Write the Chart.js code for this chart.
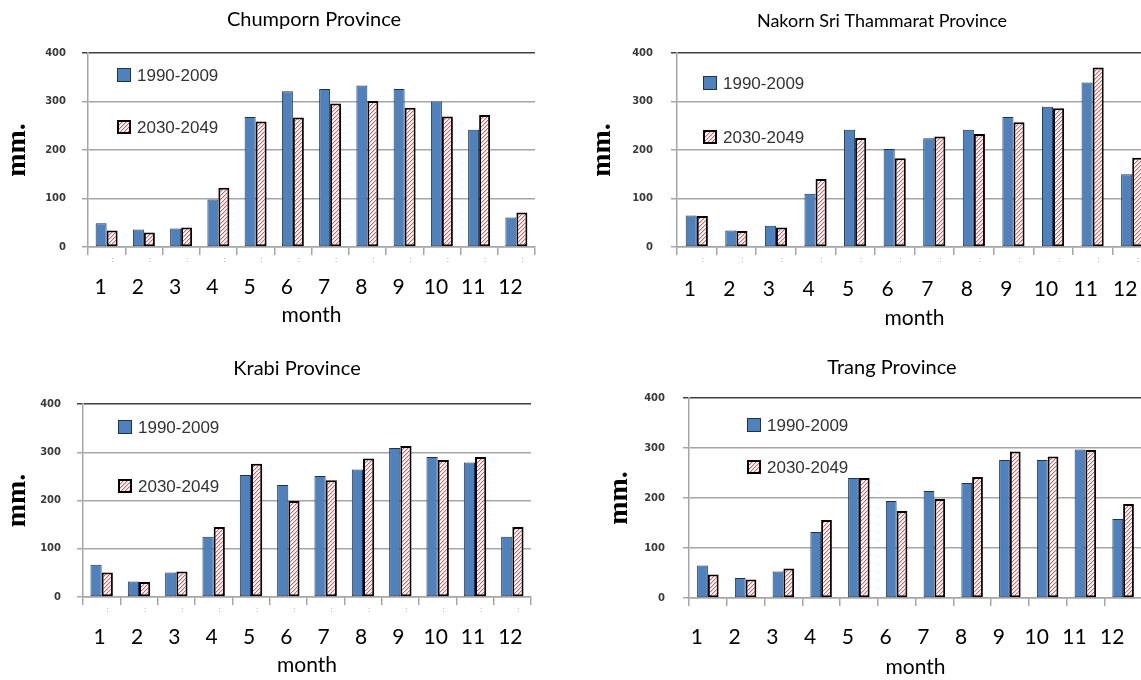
<!DOCTYPE html>
<html>
<head>
<meta charset="utf-8">
<script src="https://cdn.jsdelivr.net/npm/chart.js@4.4.1/dist/chart.umd.min.js"></script>
<style>
html, body { margin: 0; padding: 0; background: #fff; overflow: hidden; }
#wrap { position: relative; width: 1141px; height: 680px; overflow: hidden; background: #fff; }
#wrap canvas { position: absolute; }
</style>
</head>
<body>
<div id="wrap">
  <canvas id="c1"></canvas>
  <canvas id="c2"></canvas>
  <canvas id="c3"></canvas>
  <canvas id="c4"></canvas>
</div>
<script>
// ---- data ----
const months = ['1', '2', '3', '4', '5', '6', '7', '8', '9', '10', '11', '12'];
const periodLabels = ['1990-2009', '2030-2049'];
const yTickMin = 0, yTickMax = 400, yTickStep = 100;

const chumpornBase   = [49, 36, 38, 98, 268, 321, 326, 333, 326, 300, 242, 61];
const chumpornFuture = [34, 30, 40, 122, 259, 267, 296, 301, 287, 269, 272, 71];

const nakornBase   = [65, 34, 44, 110, 242, 202, 224, 242, 268, 289, 339, 150];
const nakornFuture = [64, 33, 40, 140, 225, 183, 228, 233, 257, 286, 370, 184];

const krabiBase   = [67, 32, 51, 125, 253, 232, 251, 264, 309, 290, 279, 125];
const krabiFuture = [51, 31, 53, 145, 276, 199, 242, 287, 313, 284, 290, 145];

const trangBase   = [65, 40, 53, 132, 240, 194, 214, 230, 276, 276, 297, 158];
const trangFuture = [47, 37, 59, 156, 240, 174, 198, 242, 293, 283, 296, 188];

// ---- styles ----
const BLUE = '#4f81bd';
const BLUE_EDGE = '#1d3352';
const GRID = '#a6a6a6';
const TOPLINE = '#404040';

function makeHatch() {
  const n = 4;
  const c = document.createElement('canvas');
  c.width = n; c.height = n;
  const g = c.getContext('2d');
  g.fillStyle = '#ffffff';
  g.fillRect(0, 0, n, n);
  for (let x = 0; x < n; x++) {
    for (let y = 0; y < n; y++) {
      const k = (x + y) % n;
      if (k === n - 1) { g.fillStyle = '#e05a5a'; g.fillRect(x, y, 1, 1); }
      else if (k === 0) { g.fillStyle = '#f5cccc'; g.fillRect(x, y, 1, 1); }
    }
  }
  return g.createPattern(c, 'repeat');
}
const HATCH = makeHatch();

const decor = {
  id: 'panelDecor',
  afterDraw(chart, args, o) {
    const ctx = chart.ctx;
    ctx.save();
    // title
    ctx.fillStyle = '#000';
    ctx.font = o.titleSize + 'px Lato';
    ctx.textAlign = 'center';
    ctx.textBaseline = 'middle';
    ctx.fillText(o.title, o.titleX, o.titleY);
    // faint colon marks below the axis
    if (o.dots) {
      const xs = chart.scales.x;
      ctx.fillStyle = '#8a8a8a';
      ctx.font = '8px "Liberation Sans"';
      for (let i = 0; i < chart.data.labels.length; i++) {
        ctx.fillText(':', xs.getPixelForValue(i) + 6, chart.chartArea.bottom + 13);
      }
    }
    // legend
    const s = 14;
    chart.data.datasets.forEach((ds, i) => {
      const x = o.legX, y = o.legY[i];
      ctx.fillStyle = ds.backgroundColor;
      ctx.fillRect(x, y, s, s);
      ctx.lineWidth = ds.borderWidth;
      ctx.strokeStyle = ds.borderColor;
      const h = ds.borderWidth / 2;
      ctx.strokeRect(x + h, y + h, s - ds.borderWidth, s - ds.borderWidth);
      ctx.fillStyle = '#333';
      ctx.font = '17px "Liberation Sans"';
      ctx.textAlign = 'left';
      ctx.textBaseline = 'middle';
      ctx.fillText(ds.label, x + s + 6, y + s / 2 + 1);
    });
    ctx.restore();
  }
};

const panels = [
  { id: 'c1', title: 'Chumporn Province', titleSize: 20, titleX: 314, titleY: 20,
    base: chumpornBase, future: chumpornFuture, dots: true,
    x: 0, y: 0, w: 570, h: 340, l: 88, t: 53, r: 535, b: 247, xh: 81, xpad: 20, lo: -6,
    mpad: 1, ypad: 16, cat: 0.59, legX: 117, legY: [68, 120] },
  { id: 'c2', title: 'Nakorn Sri Thammarat Province', titleSize: 18, titleX: 312, titleY: 21,
    base: nakornBase, future: nakornFuture, dots: true,
    x: 570, y: 0, w: 600, h: 340, l: 107, t: 53, r: 582, b: 247, xh: 84, xpad: 22, lo: -7,
    mpad: 16, ypad: 18, cat: 0.56, legX: 133, legY: [76, 130] },
  { id: 'c3', title: 'Krabi Province', titleSize: 20, titleX: 297, titleY: 29,
    base: krabiBase, future: krabiFuture, dots: true,
    x: 0, y: 340, w: 570, h: 340, l: 83, t: 64, r: 531, b: 257, xh: 81, xpad: 20, lo: -2,
    mpad: 1, ypad: 16, cat: 0.6, legX: 118, legY: [80, 139] },
  { id: 'c4', title: 'Trang Province', titleSize: 20, titleX: 322, titleY: 28,
    base: trangBase, future: trangFuture, dots: false,
    x: 570, y: 340, w: 600, h: 340, l: 119, t: 58, r: 572, b: 258, xh: 82, xpad: 19, lo: -11,
    mpad: 33, ypad: 18, cat: 0.57, legX: 177, legY: [78, 120] }
];

function makeChart(p) {
  const cv = document.getElementById(p.id);
  cv.width = p.w; cv.height = p.h;
  cv.style.left = p.x + 'px'; cv.style.top = p.y + 'px';
  cv.style.width = p.w + 'px'; cv.style.height = p.h + 'px';
  return new Chart(cv, {
    type: 'bar',
    data: {
      labels: months,
      datasets: [
        { label: periodLabels[0], data: p.base, backgroundColor: BLUE, borderColor: BLUE_EDGE,
          borderWidth: 1, borderSkipped: false, categoryPercentage: p.cat, barPercentage: 1 },
        { label: periodLabels[1], data: p.future, backgroundColor: HATCH, borderColor: '#000',
          borderWidth: 2, borderSkipped: false, categoryPercentage: p.cat, barPercentage: 1 }
      ]
    },
    options: {
      responsive: false,
      animation: false,
      devicePixelRatio: 1,
      layout: { padding: { left: 0, top: p.t, right: p.w - p.r, bottom: p.h - p.b - p.xh } },
      plugins: {
        legend: { display: false },
        tooltip: { enabled: false },
        title: { display: false },
        panelDecor: { title: p.title, titleSize: p.titleSize, titleX: p.titleX, titleY: p.titleY,
                      legX: p.legX, legY: p.legY, dots: p.dots }
      },
      scales: {
        x: {
          type: 'category',
          offset: true,
          grid: { display: true, drawOnChartArea: false, drawTicks: true, tickLength: 8,
                  color: GRID, lineWidth: 1.5, offset: true },
          border: { display: true, color: GRID, width: 1.5 },
          ticks: { font: { family: 'Lato', size: 21 }, color: '#000', padding: p.xpad,
                   labelOffset: p.lo, maxRotation: 0, autoSkip: false },
          title: { display: true, text: 'month', font: { family: 'Lato', size: 21 }, color: '#000',
                   padding: { top: 0, bottom: 0 } },
          afterFit: (s) => { s.height = p.xh; }
        },
        y: {
          min: yTickMin, max: yTickMax,
          ticks: { stepSize: yTickStep, font: { family: 'DejaVu Sans', size: 10, weight: 'bold' },
                   color: '#3a3a3a', padding: p.ypad },
          grid: { color: (c) => (c.tick && c.tick.value === yTickMax ? TOPLINE : GRID),
                  lineWidth: 1.5, tickLength: 6, drawTicks: true },
          border: { display: true, color: GRID, width: 1.5 },
          title: { display: true, text: 'mm.', font: { family: 'Liberation Serif', size: 28, weight: 'bold' },
                   color: '#000', padding: { top: p.mpad, bottom: 0 } },
          afterFit: (s) => { s.width = p.l; }
        }
      }
    },
    plugins: [decor]
  });
}

panels.forEach(makeChart);
</script>
</body>
</html>
